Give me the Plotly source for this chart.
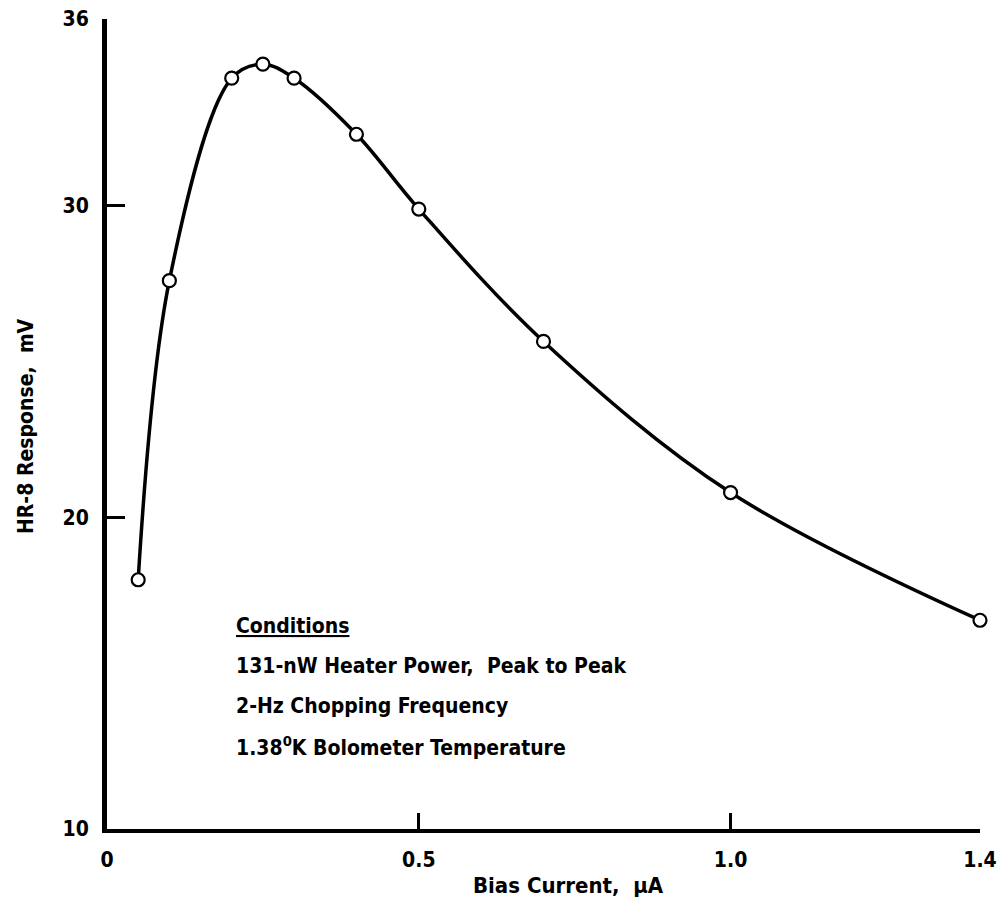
import plotly.graph_objects as go

bias_current = [0.05, 0.10, 0.20, 0.25, 0.30, 0.40, 0.50, 0.70, 1.00, 1.40]
response_mv = [18.0, 27.6, 34.1, 34.55, 34.1, 32.3, 29.9, 25.65, 20.8, 16.7]

x_ticks = [0, 0.5, 1.0, 1.4]
x_tick_labels = ["0", "0.5", "1.0", "1.4"]
y_ticks = [10, 20, 30, 36]
y_tick_labels = ["10", "20", "30", "36"]

conditions = [
    "<u>Conditions</u>",
    "131-nW Heater Power,  Peak to Peak",
    "2-Hz Chopping Frequency",
    "1.38<sup>0</sup>K Bolometer Temperature",
]

FONT = "DejaVu Sans Condensed"

L, R, T, B = 107, 980, 19, 829
W, H = 999, 915

fig = go.Figure()
fig.add_trace(go.Scatter(
    x=bias_current, y=response_mv,
    mode="lines+markers",
    line=dict(color="black", width=3.5, shape="spline", smoothing=1.0),
    marker=dict(symbol="circle", size=13, color="white",
                line=dict(color="black", width=2.2)),
    cliponaxis=False,
    showlegend=False,
))

fig.update_layout(
    width=W, height=H,
    margin=dict(l=L, r=W - R, t=T, b=H - B, autoexpand=False),
    paper_bgcolor="white", plot_bgcolor="white",
    font=dict(family=FONT, color="black", size=21, weight="bold"),
    xaxis=dict(range=[0, 1.4], tickvals=x_ticks, ticktext=x_tick_labels,
               showgrid=False, zeroline=False, showline=True, automargin=False,
               linecolor="black", linewidth=4, ticks="inside",
               ticklen=16, tickwidth=2.5, tickcolor="black",
               ticklabelstandoff=9,
               tickfont=dict(family=FONT, size=21, weight="bold")),
    yaxis=dict(range=[10, 36], tickvals=y_ticks, ticktext=y_tick_labels,
               showgrid=False, zeroline=False, showline=True, automargin=False,
               linecolor="black", linewidth=5, ticks="inside",
               ticklen=18, tickwidth=2.5, tickcolor="black",
               ticklabelstandoff=9,
               tickfont=dict(family=FONT, size=21, weight="bold")),
)

fig.add_annotation(text="Bias Current,  µA", xref="paper", yref="paper",
                   x=(568 - L) / (R - L), y=-(885 - B) / (B - T),
                   showarrow=False, font=dict(family=FONT, size=22, weight="bold"),
                   xanchor="center", yanchor="middle")
fig.add_annotation(text="HR-8 Response,  mV", xref="paper", yref="paper",
                   x=-(L - 26) / (R - L), y=(B - 426) / (B - T),
                   showarrow=False, textangle=-90,
                   font=dict(family=FONT, size=21, weight="bold"),
                   xanchor="center", yanchor="middle")

line_y = [626, 666, 706, 746]
for txt, py in zip(conditions, line_y):
    fig.add_annotation(text=txt, xref="paper", yref="paper",
                       x=(234 - L) / (R - L), y=(B - py) / (B - T),
                       showarrow=False, font=dict(family=FONT, size=21, weight="bold"),
                       xanchor="left", yanchor="middle", align="left")

fig.write_html("out.html", config={"displayModeBar": False},
               post_script="document.body.style.margin='0px';document.body.style.padding='0px';")
